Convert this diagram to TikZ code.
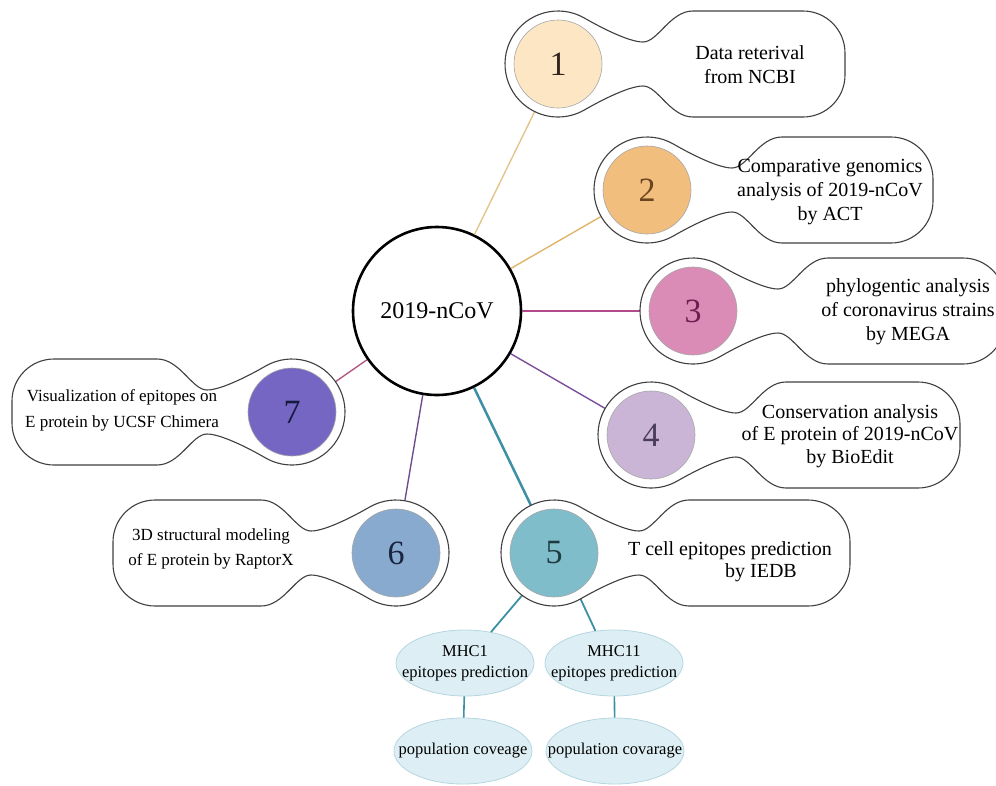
\documentclass[tikz,border=0pt]{standalone}
\usepackage{fontspec}
\setmainfont{Liberation Serif}
\usetikzlibrary{shapes.geometric}
\definecolor{f1}{HTML}{FCE6C4}
\definecolor{f2}{HTML}{F1BE7E}
\definecolor{f3}{HTML}{DA8CB6}
\definecolor{f4}{HTML}{CBB5D7}
\definecolor{f5}{HTML}{80BDCA}
\definecolor{f6}{HTML}{88AACF}
\definecolor{f7}{HTML}{7566C4}
\definecolor{d1}{HTML}{2E2418}
\definecolor{d2}{HTML}{6B4520}
\definecolor{d3}{HTML}{6B2050}
\definecolor{d4}{HTML}{4A3D5A}
\definecolor{d5}{HTML}{1F3A40}
\definecolor{d6}{HTML}{1A2540}
\definecolor{d7}{HTML}{151A40}
\definecolor{k1}{HTML}{E3C48A}
\definecolor{k2}{HTML}{E2B46A}
\definecolor{k3}{HTML}{B04A8A}
\definecolor{k4}{HTML}{7B4E9A}
\definecolor{k5}{HTML}{3D8FA3}
\definecolor{k6}{HTML}{6E4E8E}
\definecolor{k7}{HTML}{B05A84}
\definecolor{ellfill}{HTML}{DDEFF4}
\definecolor{ellline}{HTML}{B5D6E0}
\newcommand\bubblepath[1]{%
 (60:53) .. controls (39.5,38.4) and (70,22) .. (85,22)
 .. controls (100,22) and (112,53) .. (135,53)
 -- ({#1-42},53) arc[start angle=90,end angle=0,radius=42] -- (#1,-11)
 arc[start angle=0,end angle=-90,radius=42]
 -- (135,-53) .. controls (112,-53) and (100,-22) .. (85,-22)
 .. controls (70,-22) and (39.5,-38.4) .. (300:53)
 arc[start angle=300,end angle=60,radius=53] -- cycle}
\newcommand\bubbleat[3]{\begin{scope}[shift={#1},xscale=#3]\draw[bub] \bubblepath{#2};\end{scope}}
\tikzset{
 outl/.style={circle,minimum size=106pt,inner sep=0pt},
 bub/.style={draw=black!75,line width=1.1pt,fill=white},
 disc/.style={circle,minimum size=88pt,inner sep=0pt,draw=black!35,line width=0.6pt,font=\fontsize{34}{34}\selectfont},
 btext/.style={align=center,font=\fontsize{20}{24}\selectfont,inner sep=0pt},
 stext/.style={align=center,font=\fontsize{17}{26}\selectfont,inner sep=0pt},
 conn/.style={line width=1.4pt},
 ell/.style={ellipse,minimum width=138pt,minimum height=66pt,inner sep=0pt,fill=ellfill,draw=ellline,line width=0.8pt},
 etext/.style={align=center,inner sep=0pt,font=\fontsize{16.5}{21}\selectfont},
}
\begin{document}
\begin{tikzpicture}[x=1pt,y=-1pt]
\useasboundingbox (0,0) rectangle (996,785);
% anchor circles
\node[outl] (o1) at (558,64) {};
\node[outl] (o2) at (647,190) {};
\node[outl] (o3) at (693,311) {};
\node[outl] (o4) at (651,435) {};
\node[outl] (o5) at (554,553) {};
\node[outl] (o6) at (396,553) {};
\node[outl] (o7) at (292,412) {};
\node[circle,draw,line width=2.6pt,minimum size=168pt,inner sep=0pt,font=\fontsize{24}{24}\selectfont] (C) at (437,311) {2019-nCoV};
% ellipses
\node[ell] (m1) at (465,663) {};
\node[ell] (m2) at (614,663) {};
\node[ell] (p1) at (463,751) {};
\node[ell] (p2) at (615,751) {};
\node[etext] (em1) at (m1) {MHC1\\epitopes prediction};
\node[etext] (em2) at (m2) {MHC11\\epitopes prediction};
\node[etext] (ep1) at (p1) {population coveage};
\node[etext] (ep2) at (p2) {population covarage};
% connectors
\draw[conn,draw=k1] (C) -- (o1);
\draw[conn,draw=k2] (C) -- (o2);
\draw[conn,draw=k3] (C) -- (o3);
\draw[conn,draw=k4] (C) -- (o4);
\draw[conn,draw=k5,line width=2.5pt] (C) -- (o5);
\draw[conn,draw=k6] (C) -- (o6);
\draw[conn,draw=k7] (C) -- (o7);
\draw[conn,draw=k5,line width=1.8pt] (o5.233) -- (m1.50);
\draw[conn,draw=k5,line width=1.8pt] (o5.300) -- (m2.120);
\draw[conn,draw=k5,line width=1.6pt] (m1) -- (p1);
\draw[conn,draw=k5,line width=1.6pt] (m2) -- (p2);
% bubbles
\bubbleat{(558,64)}{287}{1}
\bubbleat{(647,190)}{286}{1}
\bubbleat{(693,311)}{312}{1}
\bubbleat{(651,435)}{309}{1}
\bubbleat{(554,553)}{296}{1}
\bubbleat{(396,553)}{283}{-1}
\bubbleat{(292,412)}{280}{-1}
% discs
\node[disc,fill=f1,text=d1] (n1) at (o1) {1};
\node[disc,fill=f2,text=d2] (n2) at (o2) {2};
\node[disc,fill=f3,text=d3] (n3) at (o3) {3};
\node[disc,fill=f4,text=d4] (n4) at (o4) {4};
\node[disc,fill=f5,text=d5] (n5) at (o5) {5};
\node[disc,fill=f6,text=d6] (n6) at (o6) {6};
\node[disc,fill=f7,text=d7] (n7) at (o7) {7};
% texts
\node[btext] (t1) at (750,65) {Data reterival\\from NCBI};
\node[btext] (t2) at (830,192) {Comparative genomics\\analysis of 2019-nCoV\\by ACT};
\node[btext] (t3) at (908,312) {phylogentic analysis\\of coronavirus strains\\by MEGA};
\node[btext,font=\fontsize{20}{22.5}\selectfont] (t4) at (850,436) {Conservation analysis\\of E protein of 2019-nCoV\\by BioEdit};
\node[btext,font=\fontsize{20}{22}\selectfont] (t5) at (730,562) {T cell epitopes prediction\\\hspace*{62pt}by IEDB};
\node[stext,font=\fontsize{17}{25}\selectfont] (t6) at (211,549) {3D structural modeling\\of E protein by RaptorX};
\node[stext] (t7) at (122,410) {Visualization of epitopes on\\E protein by UCSF Chimera};
\end{tikzpicture}
\end{document}
